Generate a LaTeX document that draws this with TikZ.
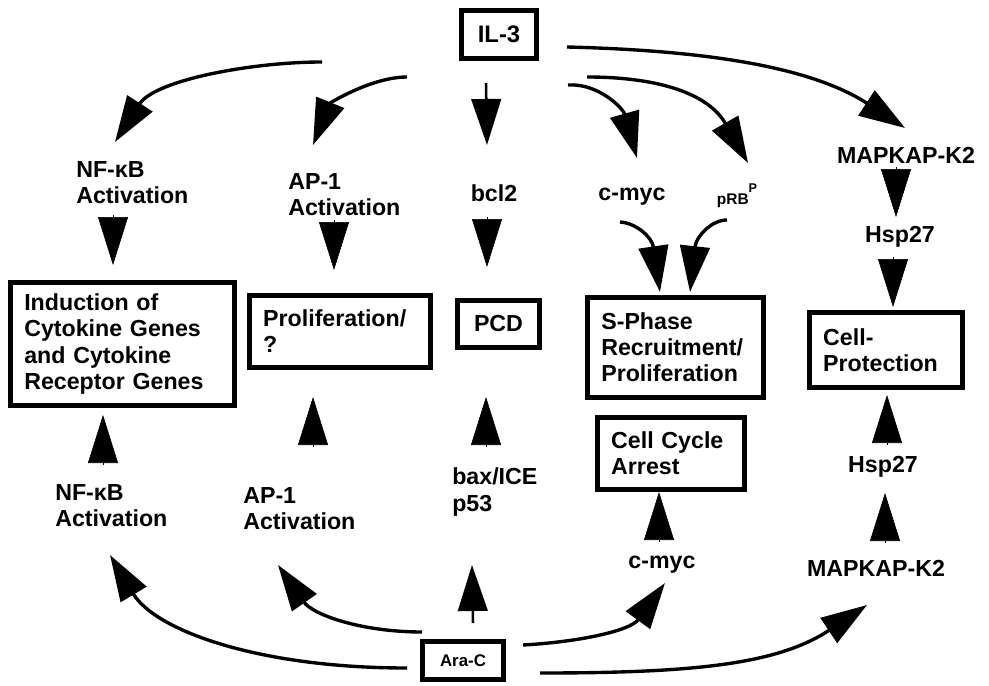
\documentclass[tikz,border=0pt]{standalone}
\usepackage{fontspec}
\setmainfont{Liberation Sans}
\usetikzlibrary{arrows.meta}
\hyphenpenalty=10000
\newcommand\lblfont{\fontsize{16.5}{18.5}\selectfont\bfseries}

\tikzset{
  lbl/.style={font=\lblfont, inner sep=0pt, align=left},
  box/.style={draw, line width=3.4pt, font=\lblfont, align=left, inner xsep=3.5mm, inner ysep=0pt},
  arr/.style={line width=2.4pt, -{Triangle[length=11.5mm,width=7.4mm]}},
  wedge/.style={line width=0.4pt, -{Triangle[length=12mm,width=7.5mm]}},
}

\begin{document}
\begin{tikzpicture}[x=0.25mm, y=-0.25mm]
  \useasboundingbox (0,0) rectangle (989,686);

  % Stimuli
  \node[box, font=\fontsize{17}{19}\selectfont\bfseries, align=center, minimum width=18.9mm, minimum height=12.1mm] (il3) at (499,34.5) {IL-3};
  \node[box, font=\fontsize{12}{14}\selectfont\bfseries, align=center, minimum width=20.4mm, minimum height=9.6mm] (arac) at (463,660.5) {Ara-C};

  % Upper row of mediators
  \node[lbl, anchor=west] (nfTop) at (76,183) {NF-κB\\Activation};
  \node[lbl, anchor=west] (apTop) at (288,195) {AP-1\\Activation};
  \node[lbl] (bcl2) at (494,193) {bcl2};
  \node[lbl] (mycTop) at (632,197) {c-myc};
  \node[lbl] (prb) at (737,196) {{\fontsize{11}{11}\selectfont pRB}\raisebox{1ex}{\fontsize{9}{9}\selectfont P}};
  \node[lbl] (mapkTop) at (906,155) {MAPKAP-K2};
  \node[lbl] (hspTop) at (900,237) {Hsp27};

  % Outcomes
  \node[box, text width=49.1mm, minimum height=30.9mm] (induct) at (122.5,344) {Induction of\\Cytokine Genes\\and Cytokine\\Receptor Genes};
  \node[box, text width=38.4mm, minimum height=18.1mm] (prolif) at (340,331.5) {Proliferation/\\?};
  \node[box, align=center, minimum width=20.6mm, minimum height=11.9mm] (pcd) at (498.5,324) {PCD};
  \node[box, text width=37.1mm, minimum height=25.1mm] (sphase) at (675.5,347.5) {S-Phase\\Recruitment/\\Proliferation};
  \node[box, text width=29.9mm, minimum height=18.1mm] (arrest) at (671,453.5) {Cell Cycle\\Arrest};
  \node[box, text width=31.4mm, minimum height=18.9mm] (protect) at (886,350) {Cell-\\Protection};

  % Lower row of mediators
  \node[lbl, anchor=west] (nfBot) at (55,506) {NF-κB\\Activation};
  \node[lbl, anchor=west] (apBot) at (243,509) {AP-1\\Activation};
  \node[lbl, anchor=west] (baxp53) at (452,492) {bax/ICE\\p53};
  \node[lbl] (mycBot) at (662,565) {c-myc};
  \node[lbl] (mapkBot) at (876,568) {MAPKAP-K2};
  \node[lbl] (hspBot) at (883,467) {Hsp27};

  % IL-3 signals
  \draw[arr] ([shift={(-177,27.5)}]il3.center) .. controls +(-70,0) and +(40,-62) .. ([shift={(39,-41)}]nfTop.west);
  \draw[arr] ([shift={(-92,42.5)}]il3.center) .. controls +(-35,0) and +(17,-42) .. ([shift={(25,-50)}]apTop.west);
  \draw[arr, line width=1.8pt] ([shift={(-13,48.5)}]il3.center) -- ([shift={(-7,-48)}]bcl2.center);
  \draw[arr] ([shift={(69,50.5)}]il3.center) .. controls +(30,-2) and +(-14,-50) .. ([shift={(5,-39)}]mycTop.center);
  \draw[arr] ([shift={(88,42.5)}]il3.center) .. controls +(70,0) and +(-40,-70) .. ([shift={(11,-33)}]prb.center);
  \draw[arr] ([shift={(68,12.5)}]il3.center) .. controls +(120,3) and +(-100,-65) .. ([shift={(-1,-27)}]mapkTop.center);

  % into the outcomes
  \draw[wedge] ([shift={(37,32)}]nfTop.west) -- ([shift={(-9.5,-79)}]induct.center);
  \draw[wedge] ([shift={(46,25)}]apTop.west) -- ([shift={(-6,-61.5)}]prolif.center);
  \draw[wedge] ([shift={(-7,24)}]bcl2.center) -- ([shift={(-11.5,-57)}]pcd.center);
  \draw[arr] ([shift={(-12,25)}]mycTop.center) .. controls +(16,1) and +(-8,-55) .. ([shift={(-15.5,-55.5)}]sphase.center);
  \draw[arr] ([shift={(-10,24)}]prb.center) .. controls +(-16,0) and +(6,-55) .. ([shift={(14.5,-55.5)}]sphase.center);
  \draw[wedge] ([shift={(-10,12)}]mapkTop.center) -- ([shift={(-4,-20)}]hspTop.center);
  \draw[wedge] ([shift={(-7,20)}]hspTop.center) -- ([shift={(7,-43)}]protect.center);

  % Ara-C signals
  \draw[arr] ([shift={(-56,7.5)}]arac.center) .. controls +(-150,0) and +(45,75) .. ([shift={(55,49)}]nfBot.west);
  \draw[arr] ([shift={(-41,-28.5)}]arac.center) .. controls +(-60,0) and +(35,50) .. ([shift={(35,56)}]apBot.west);
  \draw[arr, line width=1.8pt] ([shift={(10,-37.5)}]arac.center) -- ([shift={(20,73)}]baxp53.west);
  \draw[arr] ([shift={(60,-15.5)}]arac.center) .. controls +(55,-3) and +(-35,48) .. ([shift={(3,18)}]mycBot.center);
  \draw[arr] ([shift={(77,12.5)}]arac.center) .. controls +(150,0) and +(-90,60) .. ([shift={(-9,37)}]mapkBot.center);

  % back up into the outcomes
  \draw[wedge] ([shift={(48,-41)}]nfBot.west) -- ([shift={(-19.5,71)}]induct.center);
  \draw[wedge] ([shift={(70,-62)}]apBot.west) -- ([shift={(-27,65.5)}]prolif.center);
  \draw[wedge] ([shift={(34,-45)}]baxp53.west) -- ([shift={(-12.5,73)}]pcd.center);
  \draw[wedge] ([shift={(-3,-23)}]mycBot.center) -- ([shift={(-12,38.5)}]arrest.center);
  \draw[wedge] ([shift={(9,-25)}]mapkBot.center) -- ([shift={(2,26)}]hspBot.center);
  \draw[wedge] ([shift={(4,-22)}]hspBot.center) -- ([shift={(1,45)}]protect.center);
\end{tikzpicture}
\end{document}
